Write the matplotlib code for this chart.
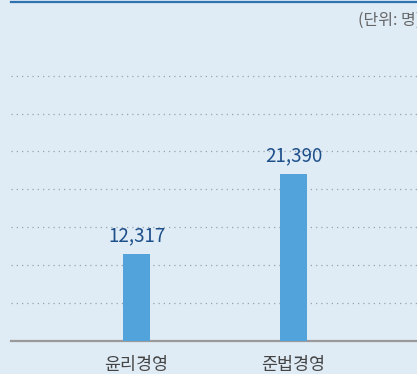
import numpy as np
import matplotlib
matplotlib.use("Agg")
import matplotlib.pyplot as plt

plt.rcParams['font.family'] = ['Noto Sans CJK KR', 'DejaVu Sans']

categories = ['윤리경영', '준법경영']
values = [12317, 21390]
unit_label = '(단위: 명)'

bg = '#dfebf5'
bar_color = '#52a3db'
value_color = '#1d4f8a'

y_min, y_max = 2480, 40900
grid_step = 4294

fig = plt.figure(figsize=(4.17, 3.74), dpi=100)
fig.patch.set_facecolor(bg)
ax = fig.add_axes([11 / 417, 33.3 / 374, 1.0, 338.7 / 374])
ax.set_facecolor(bg)

x = np.arange(len(categories))
bars = ax.bar(x, values, width=0.172, color=bar_color, zorder=3)

ax.set_xlim(-0.8, -0.8 + 417 / 157)
ax.set_ylim(y_min, y_max)

# dotted horizontal guides
ax.set_yticks([y_min + k * grid_step for k in range(1, 8)])
ax.yaxis.grid(True, color='#9aa3ad', linestyle=(0, (1, 3.2)), linewidth=0.9)
ax.tick_params(axis='y', left=False, labelleft=False)

ax.set_xticks(x)
ax.set_xticklabels(categories, fontsize=12.5, color='#444444')
ax.tick_params(axis='x', length=0, pad=11)

for s in ['left', 'right']:
    ax.spines[s].set_visible(False)
ax.spines['bottom'].set_color('#9a9a9a')
ax.spines['bottom'].set_linewidth(1.6)
ax.spines['top'].set_color('#2f72b0')
ax.spines['top'].set_linewidth(1.6)

for b, v in zip(bars, values):
    ax.text(b.get_x() + b.get_width() / 2, v + 900, f'{v:,}', ha='center',
            va='bottom', fontsize=13.5, color=value_color, zorder=4)

fig.text(358 / 417, 1 - 20 / 374, unit_label, ha='left', va='center',
         fontsize=11.5, color='#666666')

fig.savefig('out.png', dpi=100, facecolor=bg)
